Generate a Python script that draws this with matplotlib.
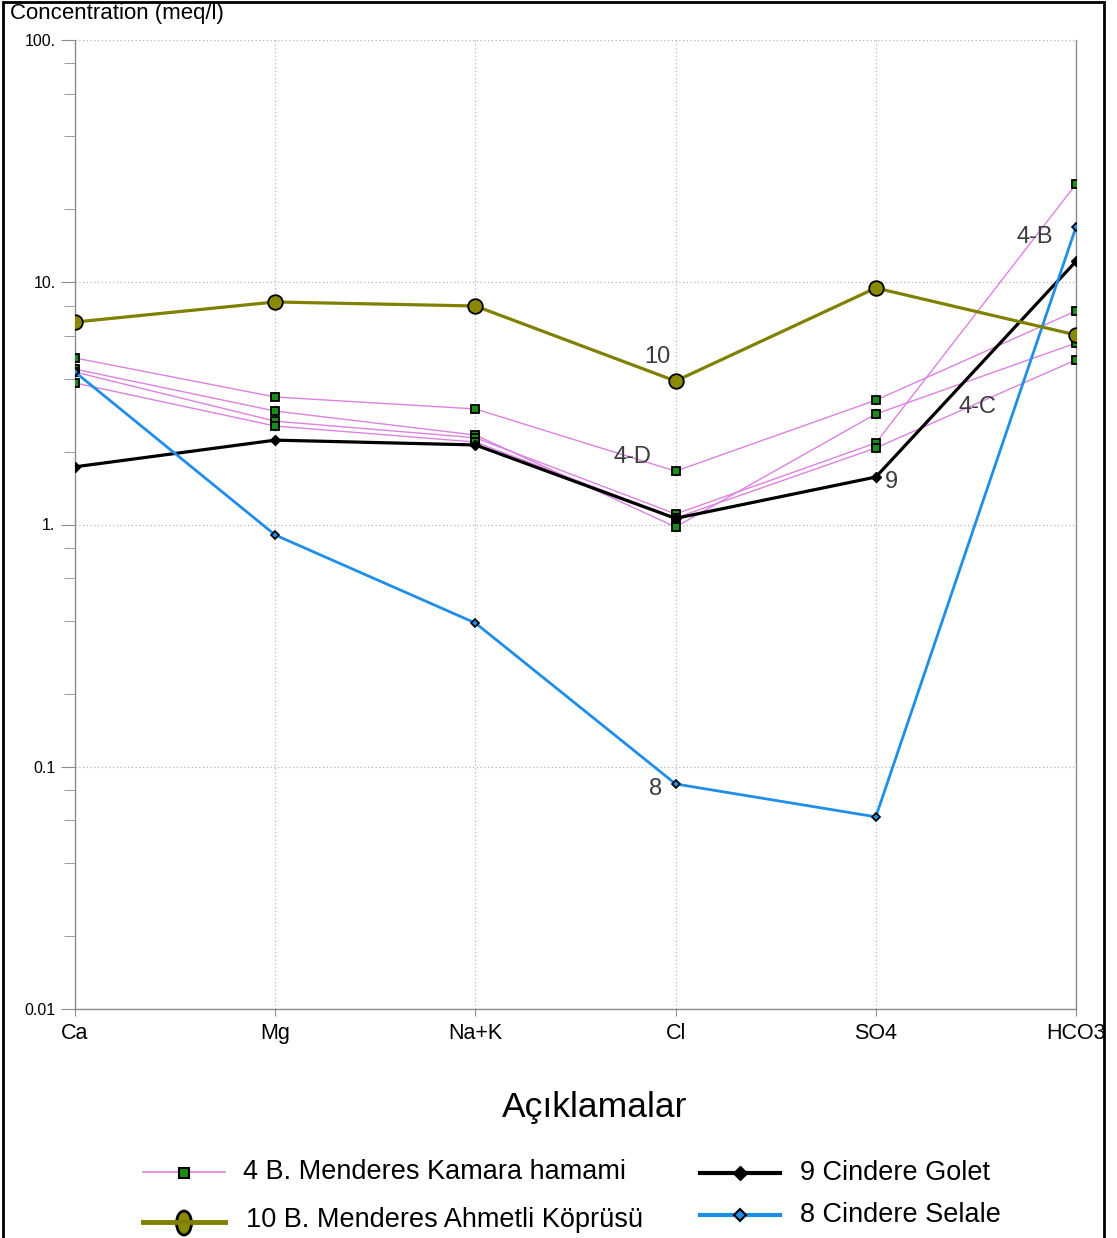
import matplotlib
matplotlib.use('Agg')
import matplotlib.pyplot as plt
from matplotlib.lines import Line2D
from matplotlib.patches import Rectangle, Ellipse
import matplotlib.ticker as mticker

plt.rcParams['font.family'] = ['Liberation Sans', 'DejaVu Sans']

# ---------------- data ----------------
ions = ['Ca', 'Mg', 'Na+K', 'Cl', 'SO4', 'HCO3']
s4A = [4.38, 2.94, 2.34, 0.977, 2.86, 5.61]
s4B = [4.26, 2.67, 2.28, 1.105, 2.17, 25.4]
s4C = [3.84, 2.55, 2.19, 1.064, 2.07, 4.78]
s4D = [4.87, 3.36, 3.00, 1.66, 3.26, 7.61]
s10 = [6.85, 8.29, 7.98, 3.91, 9.47, 6.06]
s9 = [1.73, 2.23, 2.13, 1.06, 1.57, 12.2]
s8 = [4.26, 0.905, 0.392, 0.0849, 0.0621, 16.9]

ytick_vals = [0.01, 0.1, 1, 10, 100]
ytick_labels = ['0.01', '0.1', '1.', '10.', '100.']

legend_labels = ['4 B. Menderes Kamara hamami', '10 B. Menderes Ahmetli Köprüsü',
                 '9 Cindere Golet', '8 Cindere Selale']
point_labels = ['10', '4-D', '8', '9', '4-C', '4-B']
point_label_pos = [(2.907, 4.91), (2.782, 1.90), (2.902, 0.0809),
                   (4.076, 1.50), (4.510, 3.05), (4.795, 15.4)]

# ---------------- styling ----------------
W, H = 1117, 1238
PINK = '#dc82e0'
OLIVE = '#808000'
BLUE = '#1e8ee8'
SQ_FACE = '#1d8a1d'
GRAYAX = '#8c8c8c'
LABCOL = '#3c3c3c'


def fx(px):
    return px / W


def fy(py):
    return 1 - py / H


fig = plt.figure(figsize=(W / 100, H / 100), dpi=100)
ax = fig.add_axes([fx(75), fy(1009), fx(1076) - fx(75), fy(40) - fy(1009)])

x = list(range(len(ions)))

for s in [s4A, s4B, s4C, s4D]:
    ax.plot(x, s, color=PINK, lw=1.0, marker='s', ms=5.5, mfc=SQ_FACE,
            mec='black', mew=1.3, zorder=3)
ax.plot(x, s9, color='black', lw=2.3, marker='D', ms=5, mfc='black',
        mec='black', zorder=4)
ax.plot(x, s8, color=BLUE, lw=2.0, marker='D', ms=4, mfc=BLUE,
        mec='black', mew=1.2, zorder=5)
ax.plot(x, s10, color=OLIVE, lw=2.3, marker='o', ms=10.5, mfc='#8a8a00',
        mec='black', mew=1.3, zorder=6)

for t, (px, py) in zip(point_labels, point_label_pos):
    ax.text(px, py, t, fontsize=17, color=LABCOL, ha='center', va='center',
            zorder=7)

ax.set_yscale('log')
ax.set_ylim(0.01, 100)
ax.set_xlim(0, len(ions) - 1)
ax.set_xticks(x)
ax.set_xticklabels(ions, fontsize=15.5)
ax.yaxis.set_major_locator(mticker.FixedLocator(ytick_vals))
ax.set_yticklabels(ytick_labels, fontsize=11.5)
ax.yaxis.set_minor_locator(mticker.LogLocator(base=10, subs=[2, 4, 6, 8]))
ax.yaxis.set_minor_formatter(mticker.NullFormatter())
ax.tick_params(axis='y', which='major', length=10, color=GRAYAX, pad=4)
ax.tick_params(axis='y', which='minor', length=8, color=GRAYAX)
ax.tick_params(axis='x', which='major', length=5, color=GRAYAX, pad=5)

ax.grid(True, which='major', axis='both', color='#b4b4b4', linestyle=(0, (1, 2)),
        lw=0.9)
ax.set_axisbelow(True)
for side in ['left', 'bottom', 'right']:
    ax.spines[side].set_color(GRAYAX)
    ax.spines[side].set_linewidth(1.0)
ax.spines['top'].set_visible(False)

fig.text(fx(10), fy(14), 'Concentration (meq/l)', fontsize=16,
         ha='left', va='center')

# legend
fig.text(fx(595), fy(1108), 'Açıklamalar', fontsize=25.5, ha='center', va='center')

fig.add_artist(Line2D([fx(143), fx(225)], [fy(1172)] * 2, color=PINK, lw=1.2))
fig.add_artist(Line2D([fx(184)], [fy(1173)], marker='s', ms=6.5, mfc=SQ_FACE,
                      mec='black', mew=1.5, linestyle='none'))
fig.text(fx(243), fy(1172), legend_labels[0], fontsize=19.5, ha='left', va='center')

fig.add_artist(Line2D([fx(143), fx(225)], [fy(1222)] * 2, color=OLIVE, lw=3.5))
fig.add_artist(Ellipse((fx(184), fy(1223)), width=15 / W, height=24 / H,
                       transform=fig.transFigure, facecolor='#8a8a00',
                       edgecolor='black', lw=2))
fig.text(fx(246), fy(1220), legend_labels[1], fontsize=19.5, ha='left', va='center')

fig.add_artist(Line2D([fx(700), fx(780)], [fy(1173)] * 2, color='black', lw=3))
fig.add_artist(Line2D([fx(740)], [fy(1173)], marker='D', ms=7, mfc='black',
                      mec='black', linestyle='none'))
fig.text(fx(800), fy(1173), legend_labels[2], fontsize=19.5, ha='left', va='center')

fig.add_artist(Line2D([fx(700), fx(780)], [fy(1215)] * 2, color=BLUE, lw=3))
fig.add_artist(Line2D([fx(740)], [fy(1215)], marker='D', ms=6, mfc=BLUE,
                      mec='black', mew=1.5, linestyle='none'))
fig.text(fx(800), fy(1215), legend_labels[3], fontsize=19.5, ha='left', va='center')

# outer frame
fig.add_artist(Rectangle((fx(3), -0.05), fx(1104) - fx(3), fy(2) + 0.05,
                         transform=fig.transFigure, fill=False,
                         edgecolor='black', lw=2, clip_on=False))

fig.savefig('out.png', dpi=100)
